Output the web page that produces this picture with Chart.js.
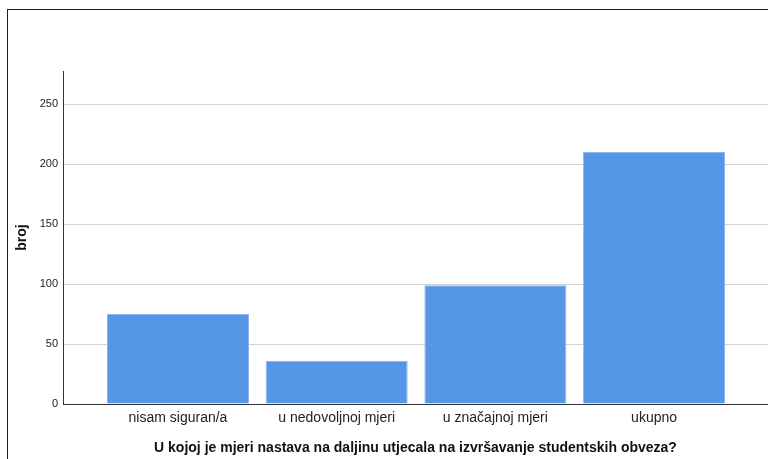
<!DOCTYPE html>
<html>
<head>
<meta charset="utf-8">
<script src="https://cdn.jsdelivr.net/npm/chart.js@4"></script>
<style>
  body { margin:0; background:#fff; }
  #wrap { position:relative; width:768px; height:459px; overflow:hidden; }
  #frame { position:absolute; left:7px; top:9px; width:800px; height:500px; border-top:1px solid #222; border-left:1px solid #222; }
  canvas { position:absolute; left:0; top:0; }
</style>
</head>
<body>
<div id="wrap">
  <div id="frame"></div>
  <canvas id="chart" width="768" height="459"></canvas>
</div>
<script>
// ========================
// DONNEES
// ========================
const categories = ['nisam siguran/a', 'u nedovoljnoj mjeri', 'u značajnoj mjeri', 'ukupno'];
const vrijednosti = [75, 36, 99, 210];
const yTicks = [0, 50, 100, 150, 200, 250];
const xTitle = 'U kojoj je mjeri nastava na daljinu utjecala na izvršavanje studentskih obveza?';
const yTitle = 'broj';

const FONT = '"Liberation Sans", Arial, sans-serif';

new Chart(document.getElementById('chart'), {
  type: 'bar',
  data: {
    datasets: [{
      data: vrijednosti.map((v, i) => ({ x: i, y: v })),
      backgroundColor: '#5596e6',
      borderColor: '#8db6ee',
      borderWidth: 1,
      barPercentage: 0.895,
      categoryPercentage: 1
    }]
  },
  options: {
    responsive: false,
    animation: false,
    layout: { padding: { top: 71, right: 0, left: 0, bottom: 0 } },
    plugins: { legend: { display: false }, tooltip: { enabled: false } },
    scales: {
      x: {
        type: 'linear',
        offset: false,
        min: -0.7246,
        max: 3.718,
        afterBuildTicks: s => { s.ticks = categories.map((c, i) => ({ value: i })); },
        afterFit: s => { s.height = 55; },
        grid: { display: false, drawTicks: false, offset: false },
        border: { color: '#333', width: 1 },
        ticks: {
          padding: 6,
          color: '#222',
          font: { family: FONT, size: 14 },
          autoSkip: false,
          maxRotation: 0,
          callback: v => categories[v]
        },
        title: {
          display: true,
          text: xTitle,
          color: '#111',
          font: { family: FONT, size: 14, weight: 'bold' },
          padding: { top: 0, bottom: 2 }
        }
      },
      y: {
        min: 0,
        max: 277.5,
        afterBuildTicks: s => { s.ticks = yTicks.map(v => ({ value: v })); },
        afterFit: s => { s.width = 63; },
        grid: { color: '#d2d2d2', drawTicks: false },
        border: { color: '#333', width: 1 },
        ticks: {
          padding: 5,
          color: '#222',
          font: { family: FONT, size: 11 }
        },
        title: {
          display: true,
          text: yTitle,
          color: '#111',
          font: { family: FONT, size: 14, weight: 'bold' },
          padding: { top: 14, bottom: 0 }
        }
      }
    }
  }
});
</script>
</body>
</html>
